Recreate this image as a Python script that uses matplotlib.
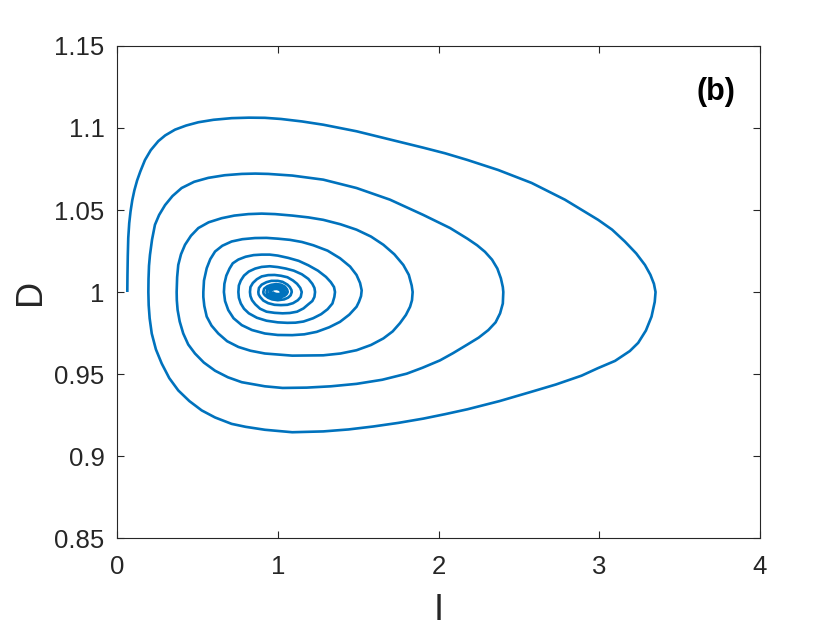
#!/usr/bin/env python3

import matplotlib

matplotlib.use("Agg")
import matplotlib.pyplot as plt
from matplotlib.ticker import FormatStrFormatter

# trajectory (I, D), one list pair per turn of the spiral
I_turn1 = [0.064, 0.065, 0.067, 0.070, 0.076, 0.084, 0.095, 0.108, 0.125, 0.145,
           0.174, 0.21, 0.257, 0.30, 0.361, 0.43, 0.506, 0.60, 0.713, 0.82,
           0.92, 1.02, 1.15, 1.283, 1.49, 1.698, 1.905, 2.04, 2.18, 2.371, 2.579,
           2.786, 2.993, 3.08, 3.159, 3.23, 3.284, 3.318, 3.340, 3.350, 3.345,
           3.325, 3.29, 3.242, 3.19, 3.14, 3.098, 2.99, 2.89, 2.73, 2.579, 2.38, 2.18,
           2.04, 1.905, 1.75, 1.594, 1.44, 1.283, 1.09, 0.92, 0.80, 0.713, 0.61,
           0.527, 0.45, 0.381, 0.325, 0.278, 0.242, 0.216, 0.203, 0.197, 0.195]
D_turn1 = [1.000, 1.010, 1.022, 1.033, 1.042, 1.049, 1.056, 1.062, 1.068, 1.0735,
           1.0805, 1.0865, 1.092, 1.0955, 1.099, 1.1015, 1.1035, 1.105, 1.106, 1.1063,
           1.1062, 1.1055, 1.104, 1.102, 1.098, 1.093, 1.088, 1.0846, 1.0805, 1.0744,
           1.0665, 1.0563, 1.044, 1.038, 1.0308, 1.0235, 1.0165, 1.0105, 1.005, 1.000,
           0.994, 0.985, 0.9765, 0.9690, 0.9640, 0.9607, 0.958, 0.9535, 0.949, 0.9436,
           0.9392, 0.9335, 0.9285, 0.9255, 0.9228, 0.9202, 0.9180, 0.9162, 0.9150,
           0.9145, 0.916, 0.9178, 0.9196, 0.9235, 0.9278, 0.9335, 0.940, 0.9475,
           0.9564, 0.965, 0.9747, 0.984, 0.992, 1.000]

I_turn2 = [0.196, 0.199, 0.205, 0.218, 0.236, 0.262, 0.299, 0.345, 0.402, 0.48,
           0.568, 0.67, 0.776, 0.86, 0.941, 1.09, 1.283, 1.49, 1.698, 1.905,
           2.072, 2.18, 2.24, 2.289, 2.333, 2.366, 2.388, 2.400, 2.403, 2.400, 2.383,
           2.355, 2.31, 2.25, 2.18, 2.09, 2.009, 1.90, 1.802, 1.65, 1.49, 1.33, 1.18,
           1.03, 0.92, 0.776, 0.69, 0.61, 0.54, 0.485, 0.443, 0.412, 0.390,
           0.377, 0.372, 0.371]
D_turn2 = [1.008, 1.016, 1.0226, 1.032, 1.041, 1.047, 1.053, 1.0585, 1.0634, 1.0672,
           1.0696, 1.0712, 1.072, 1.0722, 1.072, 1.071, 1.0685, 1.0634, 1.0563, 1.047,
           1.039, 1.0325, 1.0285, 1.0245, 1.0197, 1.0143, 1.0083, 1.003, 1.0, 0.993,
           0.987, 0.9815, 0.9768, 0.9722, 0.968, 0.9627, 0.9583, 0.9538, 0.9502,
           0.9465, 0.944, 0.9425, 0.9417, 0.9415, 0.9425, 0.945, 0.948, 0.952, 0.957,
           0.9625, 0.968, 0.9747, 0.982, 0.989, 0.995, 1.0]

I_turn3 = [0.374, 0.381, 0.398, 0.423, 0.46, 0.506, 0.57, 0.651, 0.73, 0.817,
           0.90, 0.983, 1.09, 1.19, 1.283, 1.39, 1.49, 1.58, 1.657, 1.725,
           1.781, 1.815, 1.833, 1.839, 1.835, 1.823, 1.797, 1.76, 1.715, 1.657,
           1.58, 1.49, 1.39, 1.283, 1.09, 0.92, 0.83, 0.755, 0.685, 0.63,
           0.588, 0.558, 0.543, 0.537]
D_turn3 = [1.009, 1.0165, 1.023, 1.0288, 1.0343, 1.039, 1.0425, 1.045, 1.0466, 1.0475,
           1.0478, 1.0475, 1.0466, 1.0455, 1.044, 1.0413, 1.038, 1.0338, 1.0288, 1.023,
           1.0165, 1.0105, 1.004, 1.0, 0.995, 0.991, 0.986, 0.981, 0.976, 0.9717,
           0.9677, 0.9645, 0.9625, 0.9614, 0.9612, 0.9625, 0.9642, 0.9665, 0.970, 0.9747,
           0.9795, 0.985, 0.9915, 0.997]

I_turn4 = [0.537, 0.541, 0.558, 0.58, 0.61, 0.655, 0.713, 0.78, 0.858, 0.93,
           1.003, 1.076, 1.15, 1.221, 1.31, 1.387, 1.45, 1.49, 1.512, 1.522,
           1.518, 1.505, 1.49, 1.445, 1.387, 1.32, 1.242, 1.165, 1.09, 1.0,
           0.92, 0.84, 0.776, 0.725, 0.692, 0.672, 0.665]
D_turn4 = [1.0, 1.007, 1.0145, 1.0200, 1.0247, 1.0282, 1.0308, 1.0322, 1.0329, 1.0330,
           1.0325, 1.0318, 1.0305, 1.0285, 1.0252, 1.0206, 1.0155, 1.0104, 1.0055, 1.001,
           0.9975, 0.994, 0.991, 0.9862, 0.9818, 0.9785, 0.9757, 0.9742, 0.9737, 0.9738,
           0.9747, 0.9768, 0.9798, 0.984, 0.989, 0.9945, 1.0]

I_turn5 = [0.668, 0.68, 0.70, 0.72, 0.755, 0.80, 0.85, 0.90, 0.95, 1.0,
           1.065, 1.13, 1.19, 1.25, 1.30, 1.33, 1.35, 1.356, 1.352, 1.34,
           1.31, 1.27, 1.22, 1.16, 1.11, 1.06, 1.0, 0.93, 0.87, 0.82,
           0.79, 0.77, 0.758, 0.755]
D_turn5 = [1.005, 1.010, 1.0143, 1.0175, 1.0198, 1.0215, 1.0225, 1.0228, 1.0228, 1.0222,
           1.0208, 1.019, 1.0163, 1.013, 1.0092, 1.006, 1.003, 1.0, 0.997, 0.993,
           0.9895, 0.9865, 0.984, 0.982, 0.9813, 0.9812, 0.9815, 0.9825, 0.9843, 0.987,
           0.9898, 0.993, 0.9965, 1.0]

I_turn6 = [0.758, 0.77, 0.79, 0.82, 0.86, 0.90, 0.95, 1.0, 1.05, 1.10,
           1.15, 1.19, 1.215, 1.228, 1.232, 1.228, 1.215, 1.19, 1.16, 1.12,
           1.075, 1.03, 0.98, 0.93, 0.89, 0.86, 0.84, 0.83, 0.827]
D_turn6 = [1.004, 1.007, 1.010, 1.0125, 1.0143, 1.0153, 1.0157, 1.0152, 1.0143, 1.013,
           1.0108, 1.008, 1.005, 1.0025, 1.0, 0.997, 0.9945, 0.9925, 0.990, 0.988,
           0.9872, 0.987, 0.9873, 0.988, 0.9898, 0.9925, 0.995, 0.9975, 1.0]

I_turn7 = [0.83, 0.845, 0.87, 0.90, 0.94, 0.98, 1.02, 1.06, 1.095, 1.12,
           1.14, 1.149, 1.143, 1.125, 1.095, 1.06, 1.02, 0.98, 0.94, 0.91,
           0.89, 0.881, 0.879]
D_turn7 = [1.003, 1.0055, 1.0078, 1.0095, 1.0103, 1.0104, 1.0099, 1.009, 1.007, 1.005,
           1.0025, 1.0, 0.997, 0.995, 0.9932, 0.9922, 0.992, 0.9922, 0.9932, 0.9948,
           0.997, 0.9985, 1.0]

I_turn8 = [0.883, 0.90, 0.93, 0.96, 1.0, 1.03, 1.06, 1.075, 1.085, 1.087,
           1.080, 1.065, 1.04, 1.0, 0.965, 0.94, 0.92, 0.912, 0.91]
D_turn8 = [1.0025, 1.0045, 1.006, 1.0068, 1.0068, 1.0062, 1.0045, 1.003, 1.0012, 1.0,
           0.998, 0.9966, 0.9955, 0.995, 0.9955, 0.9965, 0.998, 0.999, 1.0]

I_core = [0.915, 0.935, 0.96, 0.99, 1.02, 1.045, 1.058, 1.062, 1.055, 1.04,
          1.015, 0.99, 0.965, 0.945, 0.933, 0.93,
          0.935, 0.955, 0.975, 1.0, 1.025, 1.04, 1.045, 1.04, 1.025, 1.005,
          0.99, 0.97, 0.955, 0.948,
          0.952, 0.97, 0.99, 1.01, 1.027, 1.032, 1.027, 1.01, 0.99, 0.975,
          0.962, 0.958,
          0.962, 0.978, 0.995, 1.012, 1.022, 1.018, 1.005, 0.99, 0.975, 0.968]
D_core = [1.002, 1.0035, 1.0044, 1.0048, 1.0045, 1.0032, 1.0015, 1.0, 0.9987, 0.9975,
          0.9967, 0.9965, 0.997, 0.998, 0.999, 1.0,
          1.0016, 1.0028, 1.0033, 1.0034, 1.0028, 1.0015, 1.0, 0.9988, 0.998, 0.9976,
          0.9976, 0.998, 0.9988, 1.0,
          1.0013, 1.0022, 1.0025, 1.0024, 1.0012, 1.0, 0.9989, 0.9983, 0.9983, 0.9986,
          0.9993, 1.0,
          1.0012, 1.0018, 1.0019, 1.0013, 1.0, 0.9991, 0.9987, 0.9988, 0.9993, 1.0]

x_ticks = [0, 1, 2, 3, 4]
y_ticks = [0.85, 0.9, 0.95, 1.0, 1.05, 1.1, 1.15]
panel_label = "(b)"

I_vals = (I_turn1 + I_turn2 + I_turn3 + I_turn4 + I_turn5 + I_turn6 + I_turn7
          + I_turn8 + I_core)
D_vals = (D_turn1 + D_turn2 + D_turn3 + D_turn4 + D_turn5 + D_turn6 + D_turn7
          + D_turn8 + D_core)

plt.rcParams["font.family"] = ["Liberation Sans", "DejaVu Sans"]

fig = plt.figure(figsize=(8.4, 6.3), dpi=100)
ax = fig.add_axes([0.1393, 0.146, 0.7655, 0.781])

ax.plot(I_vals, D_vals, color="#0072BD", linewidth=1.9,
        solid_joinstyle="round", solid_capstyle="butt")

ax.set_xlim(0, 4)
ax.set_ylim(0.85, 1.15)
ax.set_xticks(x_ticks)
ax.set_yticks(y_ticks)
ax.xaxis.set_major_formatter(FormatStrFormatter("%g"))
ax.yaxis.set_major_formatter(FormatStrFormatter("%g"))
ax.tick_params(direction="in", length=5, width=0.8, labelsize=18.5, colors="#262626",
               top=True, right=True)
ax.tick_params(axis="x", pad=12)
ax.tick_params(axis="y", pad=9)
for spine in ax.spines.values():
    spine.set_color("#262626")
    spine.set_linewidth(0.8)

ax.set_xlabel("I", fontsize=26, color="#262626", va="center")
ax.set_ylabel("D", fontsize=26, color="#262626", va="center")
ax.xaxis.set_label_coords(0.5, -0.147)
ax.yaxis.set_label_coords(-0.134, 0.5)

ax.text(0.962, 0.937, panel_label, transform=ax.transAxes, ha="right", va="top",
        fontsize=22, fontweight="bold", color="black")

fig.savefig("out.png", dpi=100)
